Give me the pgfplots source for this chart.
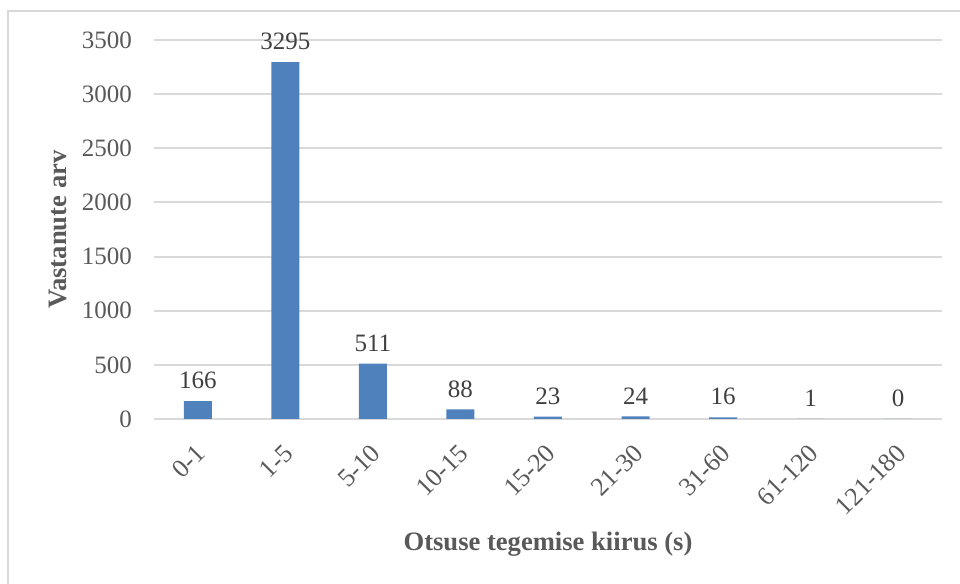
\documentclass[border=0pt]{standalone}
\usepackage{fontspec}
\setmainfont{Liberation Serif}
\usepackage{pgfplots}
\pgfplotsset{compat=1.18}
\definecolor{barblue}{HTML}{4F81BD}
\definecolor{txtgray}{HTML}{595959}
\definecolor{gridgray}{HTML}{D9D9D9}
\definecolor{lblgray}{HTML}{404040}
\begin{document}
\begin{tikzpicture}
\path[use as bounding box] (0,0) rectangle (480pt,292pt);
\draw[gridgray, line width=1pt] (3.75pt,0) -- (3.75pt,286.5pt) -- (480pt,286.5pt);
\begin{axis}[
  at={(77pt,82.5pt)}, anchor=south west,
  scale only axis, width=394pt, height=189.5pt,
  ybar, bar width=14pt,
  xmin=-0.5, xmax=8.5, ymin=0, ymax=3500,
  xtick=data,
  xticklabels={0-1,1-5,5-10,10-15,15-20,21-30,31-60,61-120,121-180},
  ytick={0,500,...,3500},
  /pgf/number format/assume math mode=true,
  /pgf/number format/set thousands separator={},
  axis line style={draw=none},
  ymajorgrids, grid style={gridgray, line width=1pt},
  major tick length=0pt,
  yticklabel style={font=\fontsize{12.5}{14}\selectfont, text=txtgray, xshift=-7.5pt},
  xticklabel style={font=\fontsize{13}{14}\selectfont, text=txtgray, xshift=4pt, yshift=-12.5pt, rotate=45, anchor=east},
  ylabel={Vastanute arv},
  xlabel={Otsuse tegemise kiirus (s)},
  ylabel style={at={(axis description cs:-0.1218,0.5)}, anchor=center, font=\bfseries\fontsize{13.3}{15}\selectfont, text=txtgray},
  xlabel style={at={(axis description cs:0.5,-0.33)}, anchor=center, font=\bfseries\fontsize{13.3}{15}\selectfont, text=txtgray},
  nodes near coords,
  nodes near coords style={font=\fontsize{12.5}{14}\selectfont, text=lblgray, yshift=2.5pt},
]
\addplot[fill=barblue, draw=none] coordinates {
  (0,166) (1,3295) (2,511) (3,88) (4,23) (5,24) (6,16) (7,1) (8,0)
};
\end{axis}
\end{tikzpicture}
\end{document}
